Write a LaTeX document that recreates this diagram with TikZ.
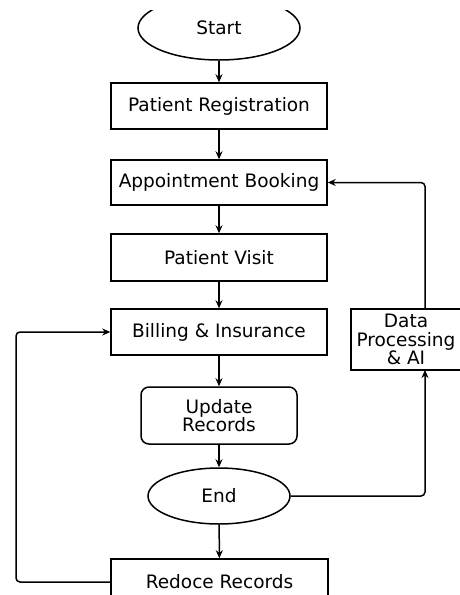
\documentclass[tikz,border=0pt]{standalone}
\usepackage{fontspec}
\setmainfont{DejaVu Sans}
\usetikzlibrary{shapes.geometric,arrows.meta}
\begin{document}
\begin{tikzpicture}[x=1pt,y=-1pt,
  every node/.style={font=\fontsize{18.5}{18.5}\selectfont, text=black, inner sep=0pt},
  boxnode/.style={draw, line width=1.5pt, rectangle, minimum width=216pt, align=center},
  oval/.style={draw, line width=1.5pt, ellipse},
  rbox/.style={draw, line width=1.5pt, rectangle, rounded corners=8pt, align=center},
  frame/.style={draw, line width=1.5pt},
  flow/.style={line width=1.5pt, -{Stealth[length=8pt,width=7pt]}},
  loopline/.style={line width=1.5pt, rounded corners=4pt, -{Stealth[length=8pt,width=7pt]}}
]
\useasboundingbox (0,0) rectangle (460,595);
\fill[white] (0,0) rectangle (460,595);
\clip (0,10) rectangle (460,595);

\node[oval, minimum width=162pt, minimum height=64pt] (start) at (219,28) {Start};
\node[boxnode, minimum height=46pt] (reg) at (219,106) {Patient Registration};
\node[boxnode, minimum height=45pt] (appt) at (219,182.5) {Appointment Booking};
\node[boxnode, minimum height=47pt] (visit) at (219,257.5) {Patient Visit};
\node[boxnode, minimum height=46pt] (bill) at (219,332) {Billing \& Insurance};
\node[rbox, minimum width=156pt, minimum height=57pt] (upd) at (219,415.5) {Update\\Records};
\node[oval, minimum width=142pt, minimum height=56pt] (end) at (219,496) {End};
\node[boxnode, minimum width=217pt, minimum height=46pt] (redo) at (219.5,582) {Redoce Records};
\draw[frame] (351,309) rectangle (490,370);
\node[align=center] (dp) at (406,339.5) {Data\\Processing\\\& AI};

\coordinate (dpin) at (425,370);
\coordinate (dpout) at (425,309);
\coordinate (lft) at (16,332);

\draw[flow] (start) -- (reg);
\draw[flow] (reg) -- (appt);
\draw[flow] (appt) -- (visit);
\draw[flow] (visit) -- (bill);
\draw[flow] (bill) -- (upd);
\draw[flow] (upd) -- (end);
\draw[flow] (end) -- (redo);

\draw[loopline] (end.east) -| (dpin);
\draw[loopline] (dpout) |- (appt.east);
\draw[loopline] (redo.west) -| (lft) -- (bill.west);
\end{tikzpicture}
\end{document}
